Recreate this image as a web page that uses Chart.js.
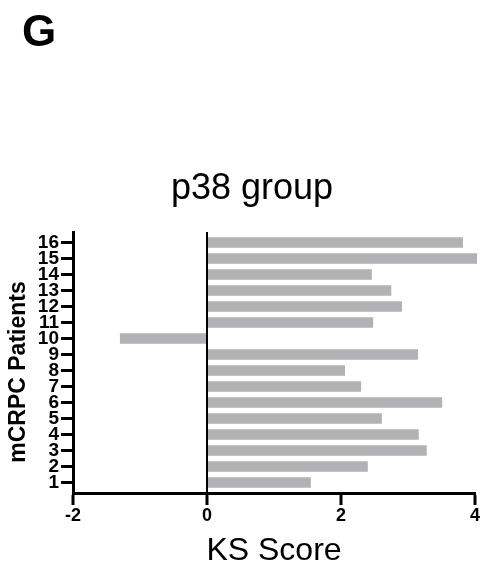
<!DOCTYPE html>
<html>
<head>
<meta charset="utf-8">
<script src="https://cdn.jsdelivr.net/npm/chart.js@4.4.1/dist/chart.umd.min.js"></script>
<style>
  html, body { margin: 0; padding: 0; background: #fff; }
  #wrap { width: 483px; height: 567px; }
</style>
</head>
<body>
<div id="wrap"><canvas id="myChart" width="483" height="567"></canvas></div>
<script>
const patients = [1, 2, 3, 4, 5, 6, 7, 8, 9, 10, 11, 12, 13, 14, 15, 16]
const ksScores = [1.55, 2.40, 3.28, 3.16, 2.61, 3.51, 2.30, 2.06, 3.15, -1.30, 2.48, 2.91, 2.75, 2.46, 4.03, 3.82]
const xTicks = [-2, 0, 2, 4]

const fontFamily = "'Liberation Sans', Arial, sans-serif"

// panel letter, chart title and y title, placed like the original figure
const figureText = {
    id: 'figureText',
    afterDraw(chart) {
        const ctx = chart.ctx
        ctx.save()
        ctx.fillStyle = '#000'
        ctx.textBaseline = 'alphabetic'
        ctx.font = `bold 44px ${fontFamily}`
        ctx.textAlign = 'left'
        ctx.fillText('G', 22, 46)

        ctx.font = `36px ${fontFamily}`
        ctx.textAlign = 'center'
        ctx.fillText('p38 group', 252, 199)

        ctx.translate(25, 372)
        ctx.rotate(-Math.PI / 2)
        ctx.font = `bold 23px ${fontFamily}`
        ctx.fillText('mCRPC Patients', 0, 0)
        ctx.restore()
    }
}

const ctx = document.getElementById('myChart')

new Chart(ctx, {
    type: 'bar',
    data: {
        labels: patients,
        datasets: [{
            data: ksScores,
            backgroundColor: '#b1b1b6',
            borderWidth: 0,
            barPercentage: 0.66,
            categoryPercentage: 1,
            clip: false
        }]
    },
    plugins: [figureText],
    options: {
        indexAxis: 'y',
        responsive: false,
        animation: false,
        layout: { padding: { left: 0, right: 8, top: 232, bottom: 0 } },
        plugins: {
            legend: { display: false },
            tooltip: { enabled: false },
            title: { display: false }
        },
        scales: {
            x: {
                type: 'linear',
                min: -2,
                max: 4,
                afterBuildTicks: scale => { scale.ticks = xTicks.map(v => ({ value: v })) },
                afterFit: scale => { scale.height = 74 },
                border: { color: '#000', width: 3 },
                grid: {
                    color: c => (c.tick && c.tick.value === 0) ? '#000' : 'rgba(0,0,0,0)',
                    lineWidth: 2,
                    drawTicks: true,
                    tickColor: '#000',
                    tickWidth: 3,
                    tickLength: 12
                },
                ticks: {
                    color: '#000',
                    padding: 2,
                    font: { family: fontFamily, size: 18, weight: 'bold', lineHeight: 1 }
                },
                title: {
                    display: true,
                    text: 'KS Score',
                    color: '#000',
                    font: { family: fontFamily, size: 32, weight: 'normal', lineHeight: 0.9 },
                    padding: { top: 0, bottom: 1 }
                }
            },
            y: {
                type: 'linear',
                min: 0.34,
                max: 16.66,
                offset: false,
                afterBuildTicks: scale => { scale.ticks = patients.map(v => ({ value: v })) },
                afterFit: scale => { scale.width = 73 },
                border: { color: '#000', width: 3 },
                grid: {
                    offset: false,
                    color: 'rgba(0,0,0,0)',
                    drawTicks: true,
                    tickColor: '#000',
                    tickWidth: 3,
                    tickLength: 12
                },
                ticks: {
                    color: '#000',
                    padding: 2,
                    autoSkip: false,
                    font: { family: fontFamily, size: 19, weight: 'bold', lineHeight: 1 }
                },
                title: { display: false }
            }
        }
    }
})
</script>
</body>
</html>
